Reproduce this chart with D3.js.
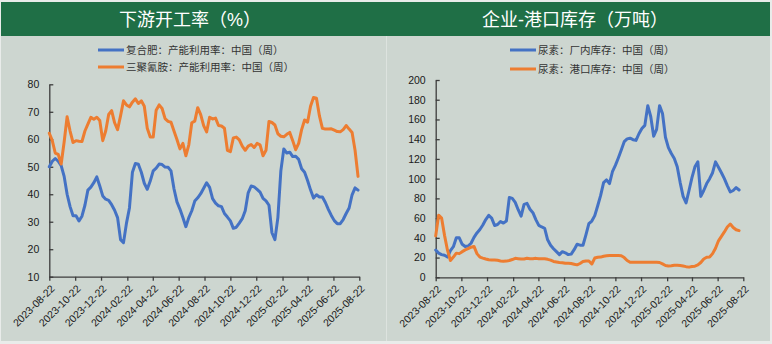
<!DOCTYPE html>
<html>
<head>
<meta charset="utf-8">
<script src="https://cdn.jsdelivr.net/npm/d3@7"></script>
<style>
  html, body { margin: 0; padding: 0; background: #e9ecea; }
  svg { display: block; }
  text { font-family: "Liberation Sans", "Noto Sans CJK SC", sans-serif; }
</style>
</head>
<body>
<svg id="chart" width="772" height="344"></svg>
<script>
// ---- data -------------------------------------------------------------
// Weekly observations, first week starting 2023-08-22
const startDate = "2023-08-22";
const axisEnd = "2025-08-22";
const tickLabels = ["2023-08-22","2023-10-22","2023-12-22","2024-02-22","2024-04-22","2024-06-22",
  "2024-08-22","2024-10-22","2024-12-22","2025-02-22","2025-04-22","2025-06-22","2025-08-22"];

// 下游开工率（%）
const fuhefeiRate = [50,52,53,52,50.4,46.5,40,35.5,32.2,32.2,30.3,32,36,41.5,42.6,44.2,46.3,43,39.4,38.2,
  37.8,36.2,34.2,31.5,23.5,22.4,29.5,35,48,51.2,50.9,48,44,41.8,44.8,48.5,49.5,51,50.8,49.9,
  49.8,48.5,42,37.2,34.6,31.5,28.2,31.5,34,37.5,38.7,40.2,42.2,44.2,42.5,38.4,36.8,35.8,35.5,33,
  31.7,30.3,27.6,28,29.5,31.1,34,40.5,43,42.7,41.8,40.8,38.5,37.6,36,26,23.5,31.5,48.5,56.5,
  55,55.3,53.7,53.8,52.7,49.3,48,45,41.6,38.6,39.8,39,39,37,34.5,32.3,30.4,29.3,29.3,30.8,
  33,35,39.8,42.3,41.5];
const melamineRate = [62.2,59.5,55,54.5,51,59,68.2,63,58.8,59.5,59.3,59.2,63,65.5,68,67.3,68,66.8,59.5,63,
  69,70.4,66,63.5,68.5,74,72.5,71.8,73.5,74.7,73,74,72,64,60.8,60.8,70.6,72.5,71.2,67.5,
  66.5,66.2,63,59.9,56.5,58.5,54,58,66,66.6,71.5,69,65,62.7,68,67.4,67.7,65,64.8,64,
  56,55.5,60.5,60.8,59.8,57.5,56,57.5,58.1,57,58.5,58,54,56,66.5,66.1,65.2,62,61.1,60.9,
  61.8,62.5,59.5,56.2,58.5,63.5,67,66.2,72,75.2,74.9,68.5,64,63.7,63.7,63.8,63.3,62.8,62.7,63.5,
  65,63.7,62.5,56,46.5];

// 企业-港口库存（万吨）
const ureaPlantStock = [27.7,24.5,23,22.3,20.5,27,31,40,40,33.5,31.3,31.7,34.5,40.5,45,48.5,53,58.5,62.8,60,
  52.5,53.5,56.5,55,57,81,80,76,68.5,62,74,75,69,65.5,58.5,52.6,51,49.7,38,32.5,
  29,26,23,26,24.8,23,23.5,28,33.5,32.6,32.5,43,54.3,57,62.5,72.5,83,96,98.7,95,
  107,113.5,121,129,137.5,140.3,141,139.5,138.8,145.5,150.8,154,174,163,143,150,174,166,142,131.5,
  125.5,120.5,112,96,82,75.5,88,101,112,117,82,88,95,100,106,117,111.5,106,100,93,
  86.5,88,91,88.5];
const ureaPortStock = [42,63,60,42.5,27.5,17,20.5,24.5,24,26,27.8,29,30.5,31.3,24,20.5,19.5,18.6,17.8,17.6,
  17.6,17.2,16.6,16.3,16.4,17,18,19.2,18.9,18.5,18.5,19.3,18.9,18.8,19.2,18.7,18.8,18.7,18.2,17.4,
  16.1,15.6,15.1,14.8,14.2,14.2,13.9,13.3,12.6,14,16,16.6,16.6,13.5,19.5,20.3,20.5,21.4,21.8,22,
  22,22,22,21.8,20,17,15.2,15.2,15.2,15.2,15.2,15.2,15.2,15.2,15.2,15.2,15,13.6,12,11.5,
  11.7,12.2,12.2,12,11.4,10.8,10.3,11,11.3,12.5,15,18.6,20.3,20.6,24,29.5,37,41.5,46,51,
  54,50.5,48.2,47.3];

const leftTicks = [10,20,30,40,50,60,70,80];
const rightTicks = [0,20,40,60,80,100,120,140,160,180,200];

const BLUE = "#4472c4", ORANGE = "#ed7d31";

// ---- drawing ----------------------------------------------------------
const svg = d3.select("#chart");
const parse = d3.timeParse("%Y-%m-%d");
const t0 = parse(startDate);
const weekly = vals => vals.map((v, i) => ({ date: d3.timeDay.offset(t0, i * 7), value: v }));

// background, header band and sheet edges
svg.append("rect").attr("x", 1).attr("y", 2).attr("width", 769).attr("height", 339).attr("fill", "#cdd6d0");
svg.append("rect").attr("x", 1).attr("y", 2).attr("width", 769).attr("height", 34).attr("fill", "#1f6f46");
svg.append("line").attr("x1", 386.5).attr("x2", 386.5).attr("y1", 36).attr("y2", 341)
  .attr("stroke", "#dde3df").attr("stroke-width", 1);

function panel(cfg) {
  const g = svg.append("g");
  g.append("text").attr("x", cfg.titleX).attr("y", 25.5).attr("text-anchor", "middle")
    .attr("fill", "#ffffff").style("font-size", "18px").text(cfg.title);

  const x = d3.scaleTime().domain([parse(startDate), parse(axisEnd)]).range(cfg.xRange);
  const y = d3.scaleLinear().domain(cfg.yDomain).range(cfg.yRange);

  // y axis, ticks pointing into the plot
  const ya = g.append("g").attr("transform", `translate(${cfg.xRange[0]},0)`)
    .call(d3.axisLeft(y).tickValues(cfg.yTicks).tickSize(-4).tickSizeOuter(0).tickPadding(10));
  // x axis, rotated date labels
  const xa = g.append("g").attr("transform", `translate(0,${cfg.yRange[0]})`)
    .call(d3.axisBottom(x).tickValues(tickLabels.map(parse)).tickSize(4).tickSizeOuter(0)
      .tickFormat(d3.timeFormat("%Y-%m-%d")));
  [ya, xa].forEach(a => {
    a.select(".domain").attr("stroke", "#3d3d3d").attr("stroke-width", 1.3);
    a.selectAll(".tick line").attr("stroke", "#3d3d3d").attr("stroke-width", 1.3);
    a.selectAll("text").attr("fill", "#1a1a1a").style("font-size", "10.5px");
  });
  xa.selectAll(".tick text").attr("x", 0).attr("y", 0).attr("dy", "0.35em")
    .attr("text-anchor", "end").attr("transform", "translate(3,10) rotate(-45)");

  const line = d3.line().x(d => x(d.date)).y(d => y(d.value)).curve(d3.curveLinear);
  cfg.series.forEach(s => {
    g.append("path").datum(weekly(s.values)).attr("d", line).attr("fill", "none")
      .attr("stroke", s.color).attr("stroke-width", 3).attr("stroke-linejoin", "round")
      .attr("stroke-linecap", "round");
  });

  // legend
  cfg.series.forEach((s, i) => {
    const ly = cfg.legendY[i];
    g.append("line").attr("x1", cfg.legendX).attr("x2", cfg.legendX + 26).attr("y1", ly).attr("y2", ly)
      .attr("stroke", s.color).attr("stroke-width", 3);
    g.append("text").attr("x", cfg.legendX + 28).attr("y", ly).attr("dy", "0.36em")
      .attr("fill", "#333333").style("font-size", "10.5px").text(s.name);
  });
}

panel({
  title: "下游开工率（%）", titleX: 190,
  xRange: [49.3, 359.3], yDomain: [10, 80], yRange: [276.7, 84.3], yTicks: leftTicks,
  legendX: 98, legendY: [50, 67],
  series: [
    { name: "复合肥：产能利用率：中国（周）", values: fuhefeiRate, color: BLUE },
    { name: "三聚氰胺：产能利用率：中国（周）", values: melamineRate, color: ORANGE }
  ]
});

panel({
  title: "企业-港口库存（万吨）", titleX: 575,
  xRange: [435.7, 743.3], yDomain: [0, 200], yRange: [277.3, 80], yTicks: rightTicks,
  legendX: 510, legendY: [50, 69],
  series: [
    { name: "尿素：厂内库存：中国（周）", values: ureaPlantStock, color: BLUE },
    { name: "尿素：港口库存：中国（周）", values: ureaPortStock, color: ORANGE }
  ]
});
</script>
</body>
</html>
